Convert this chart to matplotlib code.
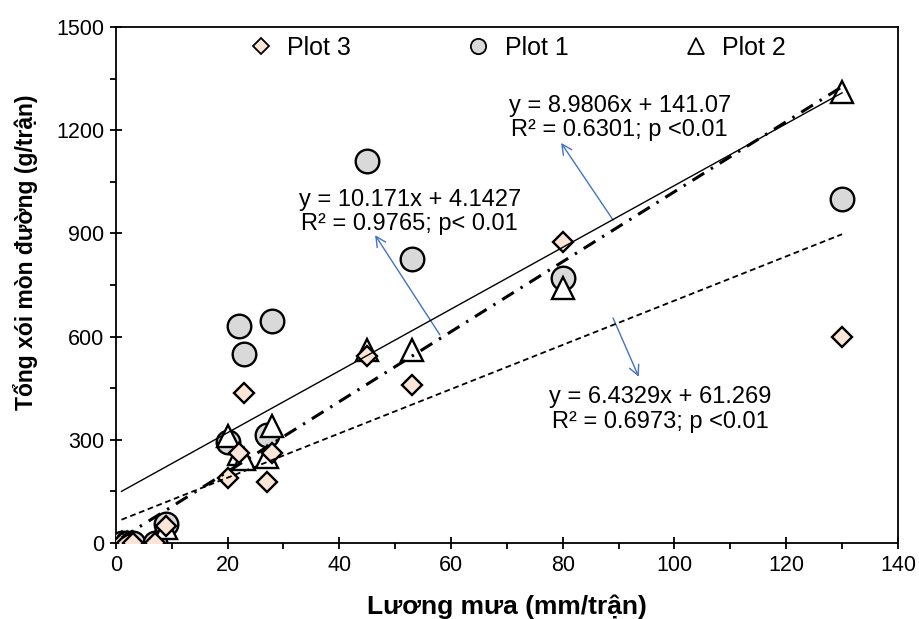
import matplotlib
matplotlib.use("Agg")
import matplotlib.pyplot as plt
from matplotlib.ticker import MultipleLocator
from matplotlib.lines import Line2D
import numpy as np

plt.rcParams['font.family'] = ['Liberation Sans', 'DejaVu Sans']

# Rainfall per event (mm) and total road erosion (g/event) for each plot
plot1_x = [1, 2, 3, 7, 9, 20, 22, 23, 28, 27, 45, 53, 80, 130]
plot1_y = [0, 0, 0, 0, 55, 295, 630, 550, 645, 315, 1110, 825, 770, 1000]

plot2_x = [1, 2, 3, 7, 9, 20, 28, 22, 23, 27, 45, 53, 80, 130]
plot2_y = [0, 0, 0, 0, 45, 310, 340, 260, 245, 250, 560, 560, 740, 1310]

plot3_x = [1, 2, 3, 7, 9, 20, 23, 22, 28, 27, 45, 53, 80, 130]
plot3_y = [0, 0, 0, 0, 50, 190, 435, 262, 262, 178, 545, 460, 875, 600]

# Linear fits: (slope, intercept)
fit1 = (8.9806, 141.07)
fit2 = (10.171, 4.1427)
fit3 = (6.4329, 61.269)
fit_x_range = (1, 130)

eq1 = "y = 8.9806x + 141.07\nR² = 0.6301; p <0.01"
eq2 = "y = 10.171x + 4.1427\nR² = 0.9765; p< 0.01"
eq3 = "y = 6.4329x + 61.269\nR² = 0.6973; p <0.01"

fig = plt.figure(figsize=(9.2, 6.19), dpi=100)
ax = fig.add_axes([0.126, 0.1228, 0.850, 0.8336])

ax.plot(plot1_x, plot1_y, linestyle='none', marker='o', ms=17,
        mfc='#d9d9d9', mec='black', mew=1.7, zorder=3)
ax.plot(plot2_x, plot2_y, linestyle='none', marker='^', ms=16,
        mfc='white', mec='black', mew=1.7, zorder=4)
ax.plot(plot3_x, plot3_y, linestyle='none', marker='D', ms=10.5,
        mfc='#fbe5d6', mec='black', mew=1.7, zorder=5)

xs = np.array(fit_x_range, dtype=float)
ax.plot(xs, fit1[0] * xs + fit1[1], color='black', lw=1.0, zorder=6)
ax.plot(xs, fit2[0] * xs + fit2[1], color='black', lw=2.2,
        dashes=(4.5, 2.6, 0.8, 2.6), zorder=6)
ax.plot(xs, fit3[0] * xs + fit3[1], color='black', lw=1.3,
        dashes=(3.2, 2), zorder=6)

txt_kw = dict(fontsize=17, ha='center', va='center', linespacing=1.15, zorder=7)
ax.text(52.6, 962, eq2, **txt_kw)
ax.text(90.2, 1236, eq1, **txt_kw)
ax.text(97.4, 388, eq3, **txt_kw)

arrow_kw = dict(arrowstyle='->', color='#4472c4', lw=1.0, mutation_scale=18,
                shrinkA=0, shrinkB=0)
ax.annotate('', xy=(46.4, 895), xytext=(58.0, 605), arrowprops=arrow_kw)
ax.annotate('', xy=(79.7, 1163), xytext=(89.0, 939), arrowprops=arrow_kw)
ax.annotate('', xy=(93.6, 483), xytext=(89.0, 654), arrowprops=arrow_kw)

ax.set_xlim(0, 140)
ax.set_ylim(0, 1500)
ax.xaxis.set_major_locator(MultipleLocator(20))
ax.xaxis.set_minor_locator(MultipleLocator(10))
ax.yaxis.set_major_locator(MultipleLocator(300))
ax.yaxis.set_minor_locator(MultipleLocator(150))
ax.tick_params(which='major', direction='inout', length=9, width=1.3,
               labelsize=15.5, pad=4)
ax.tick_params(which='minor', direction='out', length=4, width=1.3)
for s in ax.spines.values():
    s.set_linewidth(1.3)

ax.set_xlabel('Lương mưa (mm/trận)', fontsize=19, fontweight='bold')
ax.xaxis.label.set_va('center')
ax.xaxis.set_label_coords(0.5, -0.124)
ax.set_ylabel('Tổng xói mòn đường (g/trận)', fontsize=16.5, fontweight='bold')
ax.yaxis.label.set_va('center')
ax.yaxis.set_label_coords(-0.116, 0.564)

handles = [
    Line2D([], [], linestyle='none', marker='D', ms=8, mfc='#fbe5d6', mec='black', mew=1.3),
    Line2D([], [], linestyle='none', marker='o', ms=11, mfc='#d9d9d9', mec='black', mew=1.3),
    Line2D([], [], linestyle='none', marker='^', ms=11, mfc='white', mec='black', mew=1.3),
]
ax.legend(handles, ['Plot 3', 'Plot 1', 'Plot 2'], ncol=3, loc='upper center',
          bbox_to_anchor=(0.513, 1.027), frameon=False, fontsize=18,
          columnspacing=4.6, handletextpad=0.55, handlelength=1.0)

fig.savefig('out.png', dpi=100)
